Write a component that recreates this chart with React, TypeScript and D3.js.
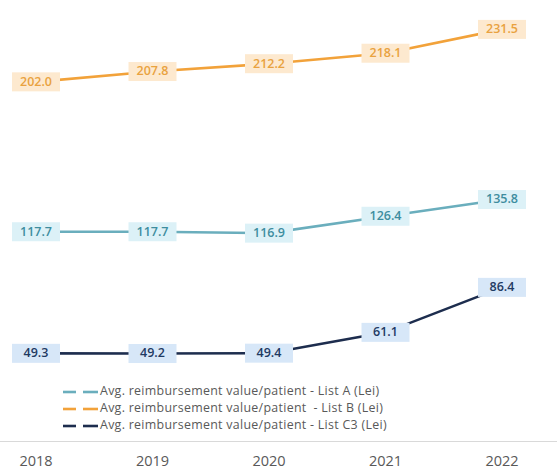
import React from "react";
import * as d3 from "d3";

const years = ["2018", "2019", "2020", "2021", "2022"];
const listA = [117.7, 117.7, 116.9, 126.4, 135.8];
const listB = [202.0, 207.8, 212.2, 218.1, 231.5];
const listC3 = [49.3, 49.2, 49.4, 61.1, 86.4];
const legendLabels = [
  "Avg. reimbursement value/patient - List A (Lei)",
  "Avg. reimbursement value/patient  - List B (Lei)",
  "Avg. reimbursement value/patient - List C3 (Lei)",
];

const W = 557;
const H = 470;

const seriesDefs = [
  { values: listA, line: "#6aaebd", text: "#3e8d9f", fill: "#dcf1f7" },
  { values: listB, line: "#f2a23a", text: "#e9a23f", fill: "#fde9cf" },
  { values: listC3, line: "#1d2d4e", text: "#1f3a63", fill: "#d7e7f8" },
];

export default function App() {
  const x = d3.scalePoint<string>().domain(years).range([36, 502]);
  const y = d3.scaleLinear().domain([0, 250]).range([441, -3.5]);
  const line = d3
    .line<number>()
    .x((_, i) => x(years[i]) as number)
    .y((d) => y(d));

  const boxW = 48;
  const boxH = 19;
  const legendYs = [392, 409, 426];

  return (
    <svg
      width={W}
      height={H}
      style={{ position: "absolute", left: 0, top: 0, background: "#fff" }}
      fontFamily="'Open Sans', 'Liberation Sans', sans-serif"
    >
      <rect width={W} height={H} fill="#fff" />
      <line x1={0} x2={W} y1={441.5} y2={441.5} stroke="#d9d9d9" strokeWidth={1.2} />
      {years.map((yr) => (
        <text
          key={yr}
          x={x(yr)}
          y={462}
          textAnchor="middle"
          dominantBaseline="middle"
          fontSize={14.5}
          fill="#595959"
        >
          {yr}
        </text>
      ))}
      {seriesDefs.map((s, si) => (
        <g key={si}>
          <path d={line(s.values) || ""} fill="none" stroke={s.line} strokeWidth={2.6} />
          {s.values.map((v, i) => {
            const cx = x(years[i]) as number;
            const cy = y(v);
            return (
              <g key={i}>
                <rect
                  x={cx - boxW / 2}
                  y={cy - boxH / 2}
                  width={boxW}
                  height={boxH}
                  fill={s.fill}
                />
                <text
                  x={cx}
                  y={cy + 0.5}
                  textAnchor="middle"
                  dominantBaseline="middle"
                  fontSize={12.5}
                  fontWeight={600}
                  fill={s.text}
                >
                  {v.toFixed(1)}
                </text>
              </g>
            );
          })}
        </g>
      ))}
      {seriesDefs.map((s, si) => {
        const ly = legendYs[si];
        return (
          <g key={"lg" + si}>
            <line x1={63} x2={76} y1={ly} y2={ly} stroke={s.line} strokeWidth={2.6} />
            <line x1={83} x2={98} y1={ly} y2={ly} stroke={s.line} strokeWidth={2.6} />
            <text
              x={100}
              y={ly}
              dominantBaseline="middle"
              fontSize={12.4}
              letterSpacing={0.3}
              fill="#595959"
              style={{ whiteSpace: "pre" }}
            >
              {legendLabels[si]}
            </text>
          </g>
        );
      })}
    </svg>
  );
}
